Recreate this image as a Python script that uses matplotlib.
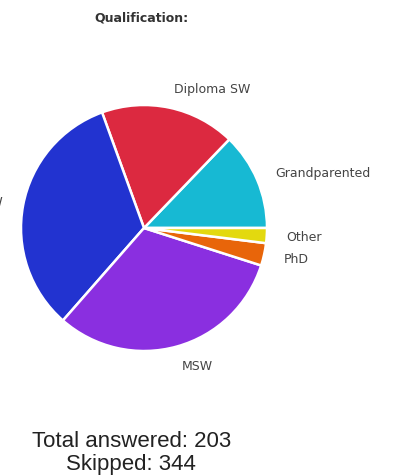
import matplotlib
matplotlib.use("Agg")
import matplotlib.pyplot as plt

# Qualification responses (counter-clockwise from 3 o'clock)
categories = ["Grandparented", "Diploma SW", "BSW", "MSW", "PhD", "Other"]
counts = [26, 36, 67, 64, 6, 4]
colours = ["#17b9d3", "#dc2940", "#2233d0", "#8a2fe0", "#e8650a", "#e3d90f"]
total_answered = 203
skipped = 344

W, H = 407, 477
fig = plt.figure(figsize=(W / 100, H / 100), dpi=100)

# pie centre / radius in pixels
cx, cy, r = 144, 229, 123
ax = fig.add_axes([(cx - r) / W, (H - cy - r) / H, 2 * r / W, 2 * r / H])

wedges, texts = ax.pie(
    counts, labels=categories, colors=colours, startangle=0,
    counterclock=True, labeldistance=1.16,
    wedgeprops=dict(edgecolor="white", linewidth=1.8),
    textprops=dict(fontsize=9, color="#444444", family="DejaVu Sans"),
)
ax.set_xlim(-1, 1)
ax.set_ylim(-1, 1)
ax.set_aspect("equal")
ax.axis("off")
for t in texts:
    t.set_clip_on(False)

fig.text(141 / W, 1 - 18 / H, "Qualification:", ha="center", va="center",
         fontsize=9, fontweight="bold", color="#333333", family="DejaVu Sans")
fig.text(132 / W, 1 - 447 / H, f"Total answered: {total_answered}",
         ha="center", va="baseline", fontsize=16, color="#222222",
         family="Liberation Sans")
fig.text(131 / W, 1 - 470 / H, f"Skipped: {skipped}",
         ha="center", va="baseline", fontsize=16, color="#222222",
         family="Liberation Sans")

fig.savefig("out.png", dpi=100, facecolor="white")
